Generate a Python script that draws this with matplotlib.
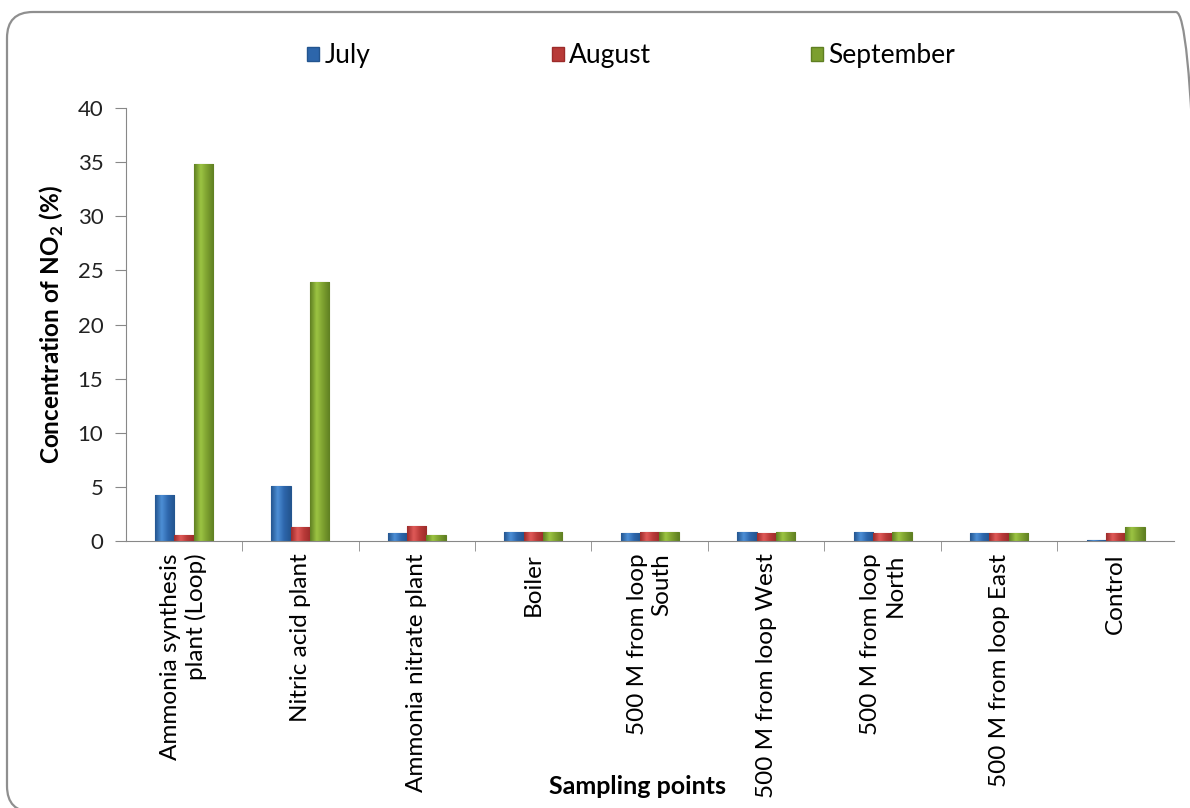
import numpy as np
import matplotlib
matplotlib.use("Agg")
import matplotlib.pyplot as plt
from matplotlib.patches import FancyBboxPatch, Patch
from matplotlib.colors import LinearSegmentedColormap
from matplotlib.transforms import IdentityTransform

plt.rcParams['font.family'] = ['Lato', 'DejaVu Sans']
plt.rcParams['mathtext.fontset'] = 'custom'
plt.rcParams['mathtext.rm'] = 'Lato'
plt.rcParams['mathtext.bf'] = 'Lato:bold'

categories = ["Ammonia synthesis\nplant (Loop)", "Nitric acid plant", "Ammonia nitrate plant",
              "Boiler", "500 M from loop\nSouth", "500 M from loop West",
              "500 M from loop\nNorth", "500 M from loop East", "Control"]
july = [4.25, 5.1, 0.75, 0.8, 0.7, 0.8, 0.8, 0.7, 0.1]
august = [0.55, 1.3, 1.4, 0.8, 0.8, 0.7, 0.7, 0.7, 0.7]
september = [34.8, 23.9, 0.55, 0.8, 0.8, 0.8, 0.8, 0.7, 1.3]
series = ["July", "August", "September"]
# dark edge, light centre, body for each series
shades = [("#23558f", "#4d8fd6", "#2d66ab"),
          ("#9c2b2a", "#e05a58", "#b83a38"),
          ("#5f7f22", "#9cc443", "#7c9f2f")]

fig = plt.figure(figsize=(11.9, 8.08), dpi=100)
# rounded frame round the chart (pixel coords, bottom/right run off the image)
border = FancyBboxPatch((7, -4), 1195, 800, boxstyle="round,pad=0,rounding_size=26",
                        transform=IdentityTransform(), fill=False, edgecolor="#8f8f8f", lw=1.6)
fig.patches.append(border)

ax = fig.add_axes([0.1055, 0.3304, 0.881, 0.5359])
x = np.arange(len(categories))
w = 0.167
grad = np.linspace(0, 1, 64).reshape(1, -1)
handles = []
for i, (vals, name) in enumerate(zip([july, august, september], series)):
    dark, light, mid = shades[i]
    cmap = LinearSegmentedColormap.from_list(name, [dark, light, mid, dark])
    bars = ax.bar(x + (i - 1) * w, vals, w, color=mid, edgecolor=dark, linewidth=0.8, zorder=2)
    for b in bars:
        bx, by = b.get_x(), b.get_y()
        bw, bh = b.get_width(), b.get_height()
        im = ax.imshow(grad, extent=[bx, bx + bw, by, by + bh], aspect='auto', cmap=cmap,
                       zorder=2.5, interpolation='bicubic')
        im.set_clip_path(b)
    handles.append(Patch(facecolor=mid, edgecolor=dark, label=name))

ax.set_xlim(-0.5, len(categories) - 0.5)
ax.set_ylim(0, 40)
ax.set_yticks(np.arange(0, 41, 5))
ax.tick_params(axis='y', labelsize=16, length=8, color="#888888", pad=8, labelcolor="#222222")
ax.set_xticks(x)
ax.set_xticklabels(categories, rotation=90, fontsize=17.5, ma='right')
ax.tick_params(axis='x', length=0, pad=9)
ax.set_xticks(np.arange(0.5, len(categories) - 0.5, 1), minor=True)
ax.tick_params(axis='x', which='minor', length=7, color="#888888")
for s in ['top', 'right']:
    ax.spines[s].set_visible(False)
for s in ['left', 'bottom']:
    ax.spines[s].set_color("#888888")
ax.set_ylabel("Concentration of NO$_\\mathbf{2}$ (%)", fontsize=17.5, fontweight='bold')
ax.yaxis.set_label_coords(-0.057, 0.5)
fig.text(0.536, 0.026, "Sampling points", ha='center', va='center', fontsize=18, fontweight='bold')

# one legend per entry so each sits where the reference puts it
for h, lx in zip(handles, [0.258, 0.4639, 0.6815]):
    fig.legend(handles=[h], loc='center left', bbox_to_anchor=(lx, 0.931), frameon=False,
               fontsize=19, handlelength=0.45, handleheight=0.45, handletextpad=0.2,
               borderpad=0, borderaxespad=0)

fig.savefig("out.png", dpi=100)
